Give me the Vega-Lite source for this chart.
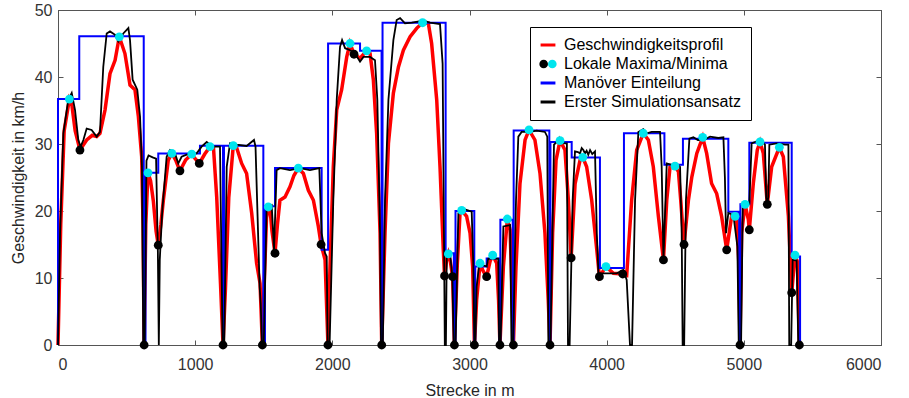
{
"$schema": "https://vega.github.io/schema/vega-lite/v6.json",
"width": 823, "height": 335,
"autosize": {"type": "none"},
"padding": {"left": 58, "top": 10, "right": 28, "bottom": 53},
"background": "white",
"config": {
 "view": {"stroke": "#555555", "strokeWidth": 1},
 "font": "Liberation Sans",
 "axis": {"grid": false, "labelFont": "Liberation Sans", "titleFont": "Liberation Sans", "labelFontSize": 16, "titleFontSize": 16, "titleFontWeight": "normal", "labelColor": "#333333", "titleColor": "#262626", "tickColor": "#555555", "domainColor": "#555555", "tickSize": -5}
},
"datasets": {
 "blue": [
  {"x":0,"v":0},{"x":0,"v":36.7},{"x":155,"v":46.1},{"x":625,"v":0},{"x":638,"v":25.7},{"x":731,"v":28.6},{"x":1035,"v":29.75},{"x":1203,"v":0},{"x":1210,"v":29.75},{"x":1497,"v":0},{"x":1509,"v":20.7},{"x":1582,"v":26.4},{"x":1922,"v":14.2},{"x":1969,"v":45.0},{"x":2202,"v":43.9},{"x":2359,"v":0},{"x":2366,"v":48.1},{"x":2826,"v":13.7},{"x":2886,"v":0},{"x":2898,"v":20.0},{"x":3035,"v":0},{"x":3042,"v":11.7},{"x":3125,"v":12.9},{"x":3218,"v":0},{"x":3225,"v":18.7},{"x":3315,"v":0},{"x":3322,"v":32.0},{"x":3582,"v":0},{"x":3590,"v":30.3},{"x":3745,"v":28.0},{"x":3951,"v":11.5},{"x":4126,"v":31.6},{"x":4421,"v":26.9},{"x":4556,"v":30.8},{"x":4887,"v":19.9},{"x":4966,"v":0},{"x":4975,"v":21.0},{"x":5040,"v":30.2},{"x":5349,"v":13.2},{"x":5410,"v":0}
 ],
 "red": [
  {"x":0,"v":0},{"x":20,"v":18},{"x":45,"v":32},{"x":83,"v":36.7},{"x":100,"v":36},{"x":125,"v":32},{"x":160,"v":29.1},{"x":209,"v":30.6},{"x":250,"v":31.3},{"x":282,"v":31.1},{"x":306,"v":31.6},{"x":343,"v":35.1},{"x":379,"v":40.5},{"x":416,"v":42.5},{"x":447,"v":46.0},{"x":488,"v":43.5},{"x":525,"v":38.8},{"x":561,"v":38.1},{"x":586,"v":34.1},{"x":610,"v":28.1},{"x":620,"v":18},{"x":628,"v":0},{"x":640,"v":18},{"x":656,"v":25.7},{"x":675,"v":24.5},{"x":695,"v":21.5},{"x":715,"v":17},{"x":731,"v":14.9},{"x":750,"v":18},{"x":768,"v":21.6},{"x":804,"v":27.6},{"x":830,"v":28.6},{"x":860,"v":27.5},{"x":889,"v":26.0},{"x":930,"v":27.6},{"x":975,"v":28.5},{"x":1000,"v":27.8},{"x":1030,"v":27.1},{"x":1070,"v":28.5},{"x":1108,"v":29.6},{"x":1133,"v":29.6},{"x":1157,"v":22.1},{"x":1185,"v":9},{"x":1203,"v":0},{"x":1220,"v":8},{"x":1245,"v":22},{"x":1278,"v":29.75},{"x":1300,"v":29.6},{"x":1339,"v":27.1},{"x":1375,"v":25.6},{"x":1412,"v":19.7},{"x":1448,"v":12.2},{"x":1473,"v":9.2},{"x":1490,"v":0},{"x":1505,"v":10},{"x":1520,"v":19},{"x":1533,"v":20.6},{"x":1545,"v":20.4},{"x":1560,"v":17},{"x":1582,"v":13.7},{"x":1600,"v":18},{"x":1618,"v":21.6},{"x":1655,"v":22.1},{"x":1691,"v":23.6},{"x":1720,"v":25.3},{"x":1752,"v":26.4},{"x":1789,"v":25.6},{"x":1825,"v":23.1},{"x":1862,"v":21.6},{"x":1898,"v":17.7},{"x":1918,"v":15.0},{"x":1947,"v":12.7},{"x":1968,"v":0},{"x":1983,"v":11.7},{"x":2007,"v":26.6},{"x":2032,"v":35.1},{"x":2068,"v":38.1},{"x":2105,"v":43.0},{"x":2129,"v":45.0},{"x":2158,"v":43.4},{"x":2202,"v":42.8},{"x":2250,"v":43.9},{"x":2275,"v":43.5},{"x":2299,"v":39.6},{"x":2323,"v":31.6},{"x":2348,"v":16.7},{"x":2360,"v":0},{"x":2384,"v":16.7},{"x":2409,"v":30.1},{"x":2445,"v":37.6},{"x":2482,"v":41.5},{"x":2518,"v":44.0},{"x":2567,"v":46.0},{"x":2616,"v":47.3},{"x":2658,"v":48.1},{"x":2700,"v":48.0},{"x":2724,"v":45.0},{"x":2761,"v":36.6},{"x":2785,"v":26.6},{"x":2809,"v":14.2},{"x":2818,"v":10.3},{"x":2832,"v":12.5},{"x":2846,"v":13.6},{"x":2860,"v":12.5},{"x":2877,"v":10.2},{"x":2890,"v":0},{"x":2911,"v":12},{"x":2931,"v":19.7},{"x":2943,"v":20.1},{"x":2979,"v":19.2},{"x":3004,"v":16.7},{"x":3023,"v":11.7},{"x":3036,"v":0},{"x":3052,"v":6.7},{"x":3077,"v":12.2},{"x":3100,"v":11},{"x":3125,"v":10.2},{"x":3150,"v":12.5},{"x":3169,"v":13.4},{"x":3198,"v":12.2},{"x":3212,"v":6.7},{"x":3222,"v":0},{"x":3247,"v":11.7},{"x":3276,"v":18.8},{"x":3296,"v":17.2},{"x":3312,"v":6.7},{"x":3320,"v":0},{"x":3339,"v":11.7},{"x":3368,"v":24.1},{"x":3405,"v":30.6},{"x":3434,"v":32.1},{"x":3477,"v":30.6},{"x":3514,"v":25.6},{"x":3550,"v":16.7},{"x":3574,"v":6.7},{"x":3587,"v":0},{"x":3606,"v":16.7},{"x":3631,"v":27.6},{"x":3660,"v":30.5},{"x":3696,"v":29.1},{"x":3721,"v":21.6},{"x":3741,"v":13.0},{"x":3770,"v":24.1},{"x":3806,"v":27.6},{"x":3826,"v":28.0},{"x":3854,"v":26.6},{"x":3891,"v":21.6},{"x":3928,"v":14.2},{"x":3947,"v":10.2},{"x":3995,"v":11.7},{"x":4049,"v":10.7},{"x":4117,"v":10.6},{"x":4146,"v":10.4},{"x":4182,"v":21.6},{"x":4219,"v":29.1},{"x":4267,"v":31.6},{"x":4304,"v":30.6},{"x":4340,"v":26.6},{"x":4377,"v":19.2},{"x":4414,"v":12.7},{"x":4438,"v":21.6},{"x":4462,"v":26.6},{"x":4498,"v":26.7},{"x":4523,"v":25.9},{"x":4540,"v":21.6},{"x":4564,"v":15.0},{"x":4596,"v":21.6},{"x":4621,"v":25.1},{"x":4657,"v":28.6},{"x":4700,"v":31.0},{"x":4729,"v":28.6},{"x":4765,"v":24.1},{"x":4802,"v":22.6},{"x":4838,"v":19.2},{"x":4875,"v":14.2},{"x":4911,"v":19.2},{"x":4936,"v":19.2},{"x":4948,"v":18.7},{"x":4965,"v":11.7},{"x":4972,"v":0},{"x":4984,"v":16.7},{"x":5009,"v":21.0},{"x":5033,"v":18.7},{"x":5040,"v":17.2},{"x":5069,"v":24.1},{"x":5098,"v":29.1},{"x":5118,"v":30.3},{"x":5142,"v":28.6},{"x":5171,"v":21.0},{"x":5203,"v":26.6},{"x":5259,"v":29.5},{"x":5288,"v":28.1},{"x":5325,"v":19.2},{"x":5349,"v":7.8},{"x":5373,"v":13.4},{"x":5390,"v":12.5},{"x":5405,"v":0}
 ],
 "black": [
  {"x":0,"v":0},{"x":15,"v":16.7},{"x":39,"v":31.6},{"x":75,"v":36.6},{"x":100,"v":37.6},{"x":124,"v":35.1},{"x":148,"v":30.6},{"x":165,"v":29.6},{"x":185,"v":30.6},{"x":209,"v":32.3},{"x":245,"v":32.1},{"x":282,"v":31.1},{"x":306,"v":31.8},{"x":330,"v":41.5},{"x":355,"v":46.5},{"x":379,"v":46.8},{"x":416,"v":46.3},{"x":440,"v":45.3},{"x":476,"v":46.5},{"x":513,"v":47.3},{"x":525,"v":45.5},{"x":544,"v":39.6},{"x":578,"v":38.1},{"x":598,"v":34.1},{"x":612,"v":26.6},{"x":622,"v":0},{"x":632,"v":0},{"x":645,"v":27.5},{"x":660,"v":28.3},{"x":690,"v":28.0},{"x":715,"v":27.8},{"x":728,"v":14},{"x":735,"v":0},{"x":742,"v":12.7},{"x":760,"v":20},{"x":792,"v":28.1},{"x":817,"v":29.1},{"x":853,"v":28.6},{"x":877,"v":27.1},{"x":901,"v":28.1},{"x":938,"v":28.4},{"x":1011,"v":28.6},{"x":1047,"v":29.6},{"x":1084,"v":30.3},{"x":1108,"v":29.9},{"x":1133,"v":29.6},{"x":1181,"v":29.6},{"x":1200,"v":0},{"x":1212,"v":0},{"x":1230,"v":26.6},{"x":1254,"v":30.1},{"x":1303,"v":29.9},{"x":1375,"v":29.7},{"x":1429,"v":30.6},{"x":1440,"v":29.6},{"x":1455,"v":19.2},{"x":1470,"v":8.7},{"x":1478,"v":6.2},{"x":1487,"v":0},{"x":1500,"v":0},{"x":1521,"v":20.6},{"x":1558,"v":20.9},{"x":1575,"v":14.2},{"x":1594,"v":26.1},{"x":1618,"v":26.4},{"x":1691,"v":26.1},{"x":1764,"v":26.4},{"x":1837,"v":26.1},{"x":1905,"v":26.4},{"x":1922,"v":16.7},{"x":1947,"v":13.7},{"x":1959,"v":13.2},{"x":1966,"v":0},{"x":1980,"v":0},{"x":2007,"v":21.6},{"x":2032,"v":36.6},{"x":2056,"v":44.5},{"x":2071,"v":45.5},{"x":2093,"v":44.3},{"x":2129,"v":44.0},{"x":2166,"v":43.5},{"x":2202,"v":42.3},{"x":2227,"v":43.0},{"x":2275,"v":43.0},{"x":2311,"v":42.5},{"x":2328,"v":36.6},{"x":2348,"v":16.7},{"x":2355,"v":0},{"x":2368,"v":0},{"x":2384,"v":21.6},{"x":2409,"v":36.6},{"x":2445,"v":45.5},{"x":2469,"v":48.5},{"x":2494,"v":48.8},{"x":2530,"v":48.0},{"x":2579,"v":48.1},{"x":2664,"v":48.4},{"x":2712,"v":48.1},{"x":2785,"v":47.9},{"x":2804,"v":42.0},{"x":2815,"v":13.7},{"x":2820,"v":0},{"x":2828,"v":0},{"x":2834,"v":13.2},{"x":2858,"v":13.7},{"x":2875,"v":10.2},{"x":2885,"v":0},{"x":2898,"v":0},{"x":2919,"v":19.7},{"x":2943,"v":20.4},{"x":3016,"v":19.9},{"x":3028,"v":11.7},{"x":3036,"v":0},{"x":3042,"v":0},{"x":3052,"v":8.7},{"x":3072,"v":12.2},{"x":3101,"v":11.9},{"x":3125,"v":11.7},{"x":3137,"v":12.9},{"x":3210,"v":12.9},{"x":3216,"v":0},{"x":3226,"v":0},{"x":3247,"v":17.7},{"x":3296,"v":17.9},{"x":3306,"v":0},{"x":3318,"v":0},{"x":3339,"v":21.6},{"x":3356,"v":31.1},{"x":3380,"v":31.8},{"x":3441,"v":31.8},{"x":3490,"v":32.0},{"x":3550,"v":31.8},{"x":3567,"v":31.1},{"x":3575,"v":0},{"x":3590,"v":0},{"x":3616,"v":29.9},{"x":3636,"v":30.3},{"x":3696,"v":30.1},{"x":3710,"v":30.1},{"x":3718,"v":0},{"x":3730,"v":0},{"x":3752,"v":21.6},{"x":3769,"v":28.9},{"x":3790,"v":28.8},{"x":3806,"v":28.6},{"x":3818,"v":29.4},{"x":3830,"v":29.1},{"x":3842,"v":28.6},{"x":3854,"v":29.0},{"x":3866,"v":28.4},{"x":3879,"v":29.1},{"x":3895,"v":28.5},{"x":3915,"v":28.9},{"x":3928,"v":16.7},{"x":3940,"v":10.7},{"x":3976,"v":10.7},{"x":4073,"v":10.7},{"x":4122,"v":11.2},{"x":4146,"v":9.7},{"x":4170,"v":0},{"x":4185,"v":0},{"x":4207,"v":21.6},{"x":4231,"v":31.8},{"x":4267,"v":32.2},{"x":4292,"v":31.6},{"x":4328,"v":31.8},{"x":4389,"v":31.8},{"x":4401,"v":26.6},{"x":4414,"v":12.7},{"x":4438,"v":27.1},{"x":4474,"v":26.9},{"x":4510,"v":27.1},{"x":4535,"v":26.6},{"x":4547,"v":16.7},{"x":4554,"v":0},{"x":4565,"v":0},{"x":4578,"v":21.6},{"x":4603,"v":30.8},{"x":4632,"v":31.0},{"x":4665,"v":30.6},{"x":4705,"v":30.6},{"x":4754,"v":31.1},{"x":4814,"v":30.9},{"x":4851,"v":31.0},{"x":4862,"v":25},{"x":4870,"v":16.7},{"x":4887,"v":19.7},{"x":4924,"v":19.4},{"x":4953,"v":14.7},{"x":4963,"v":0},{"x":4980,"v":0},{"x":4992,"v":20.6},{"x":5021,"v":20.9},{"x":5040,"v":21.1},{"x":5057,"v":30.1},{"x":5081,"v":30.3},{"x":5118,"v":30.6},{"x":5154,"v":29.9},{"x":5163,"v":22},{"x":5171,"v":21},{"x":5178,"v":22},{"x":5186,"v":29.9},{"x":5239,"v":30.1},{"x":5301,"v":29.9},{"x":5325,"v":29.9},{"x":5331,"v":0},{"x":5345,"v":0},{"x":5356,"v":12.7},{"x":5385,"v":12.6},{"x":5397,"v":0}
 ],
 "pts": [
  {"x":83,"v":36.7,"t":"max"},{"x":447,"v":46.0,"t":"max"},{"x":656,"v":25.7,"t":"max"},{"x":830,"v":28.6,"t":"max"},{"x":975,"v":28.5,"t":"max"},{"x":1108,"v":29.6,"t":"max"},{"x":1278,"v":29.75,"t":"max"},{"x":1533,"v":20.6,"t":"max"},{"x":1752,"v":26.4,"t":"max"},{"x":2129,"v":45.0,"t":"max"},{"x":2250,"v":43.9,"t":"max"},{"x":2658,"v":48.1,"t":"max"},{"x":2846,"v":13.6,"t":"max"},{"x":2943,"v":20.1,"t":"max"},{"x":3077,"v":12.2,"t":"max"},{"x":3169,"v":13.4,"t":"max"},{"x":3276,"v":18.8,"t":"max"},{"x":3434,"v":32.1,"t":"max"},{"x":3660,"v":30.5,"t":"max"},{"x":3826,"v":28.0,"t":"max"},{"x":3995,"v":11.7,"t":"max"},{"x":4267,"v":31.6,"t":"max"},{"x":4498,"v":26.7,"t":"max"},{"x":4700,"v":31.0,"t":"max"},{"x":4936,"v":19.2,"t":"max"},{"x":5009,"v":21.0,"t":"max"},{"x":5118,"v":30.3,"t":"max"},{"x":5259,"v":29.5,"t":"max"},{"x":5373,"v":13.4,"t":"max"},
  {"x":160,"v":29.1,"t":"min"},{"x":628,"v":0,"t":"min"},{"x":731,"v":14.9,"t":"min"},{"x":889,"v":26.0,"t":"min"},{"x":1030,"v":27.1,"t":"min"},{"x":1203,"v":0,"t":"min"},{"x":1490,"v":0,"t":"min"},{"x":1582,"v":13.7,"t":"min"},{"x":1918,"v":15.0,"t":"min"},{"x":1968,"v":0,"t":"min"},{"x":2158,"v":43.4,"t":"min"},{"x":2360,"v":0,"t":"min"},{"x":2818,"v":10.3,"t":"min"},{"x":2877,"v":10.2,"t":"min"},{"x":2890,"v":0,"t":"min"},{"x":3036,"v":0,"t":"min"},{"x":3125,"v":10.2,"t":"min"},{"x":3222,"v":0,"t":"min"},{"x":3320,"v":0,"t":"min"},{"x":3587,"v":0,"t":"min"},{"x":3741,"v":13.0,"t":"min"},{"x":3947,"v":10.2,"t":"min"},{"x":4117,"v":10.6,"t":"min"},{"x":4414,"v":12.7,"t":"min"},{"x":4564,"v":15.0,"t":"min"},{"x":4875,"v":14.2,"t":"min"},{"x":4972,"v":0,"t":"min"},{"x":5040,"v":17.2,"t":"min"},{"x":5171,"v":21.0,"t":"min"},{"x":5349,"v":7.8,"t":"min"},{"x":5405,"v":0,"t":"min"}
 ]
},
"layer": [
 {
  "data": {"name": "red"},
  "mark": {"type": "line", "strokeWidth": 3.5, "interpolate": "linear"},
  "encoding": {
   "x": {"field": "x", "type": "quantitative", "scale": {"domain": [0, 6000], "nice": false, "zero": false},
     "axis": {"orient": "bottom", "title": "Strecke in m", "values": [0,1000,2000,3000,4000,5000,6000], "format": "d", "labelPadding": 16, "titlePadding": 10}},
   "y": {"field": "v", "type": "quantitative", "scale": {"domain": [0, 50], "nice": false},
     "axis": {"orient": "left", "title": "Geschwindigkeit in km/h", "values": [0,10,20,30,40,50], "labelPadding": 11, "titlePadding": 8}},
   "stroke": {"datum": "Geschwindigkeitsprofil", "type": "nominal",
     "scale": {"domain": ["Geschwindigkeitsprofil", "Lokale Maxima/Minima", "Manöver Einteilung", "Erster Simulationsansatz"], "range": ["#ff0000", "#000000", "#0000ff", "#000000"]},
     "legend": {"orient": "none", "legendX": 472, "legendY": 17, "title": null, "padding": 10, "strokeColor": "#000000", "fillColor": "#ffffff", "labelFontSize": 16, "labelFont": "Liberation Sans", "labelColor": "#000000", "rowPadding": 3, "symbolType": "stroke", "symbolSize": 220, "symbolStrokeWidth": 3, "labelOffset": 8, "labelLimit": 400,
       "encode": {"symbols": {"update": {
         "shape": {"signal": "datum.value === 'Lokale Maxima/Minima' ? 'M -1 0 A 0.5 0.5 0 1 1 0 0 A 0.5 0.5 0 1 1 -1 0 Z M 0 0 A 0.5 0.5 0 1 1 1 0 A 0.5 0.5 0 1 1 0 0 Z' : 'stroke'"},
         "fill": {"signal": "datum.value === 'Lokale Maxima/Minima' ? {gradient: 'linear', x1: 0, y1: 0, x2: 1, y2: 0, stops: [{offset: 0, color: '#000000'}, {offset: 0.5, color: '#000000'}, {offset: 0.5, color: '#00e5ee'}, {offset: 1, color: '#00e5ee'}]} : 'transparent'"},
         "strokeWidth": {"signal": "datum.value === 'Lokale Maxima/Minima' ? 0 : 3"},
         "size": {"signal": "datum.value === 'Lokale Maxima/Minima' ? 300 : 220"}
       }}}}
   }
  }
 },
 {
  "data": {"name": "blue"},
  "mark": {"type": "line", "strokeWidth": 2, "interpolate": "step-after"},
  "encoding": {
   "x": {"field": "x", "type": "quantitative", "axis": null},
   "y": {"field": "v", "type": "quantitative", "axis": null},
   "stroke": {"datum": "Manöver Einteilung", "type": "nominal"}
  }
 },
 {
  "data": {"name": "black"},
  "mark": {"type": "line", "strokeWidth": 1.8, "interpolate": "linear"},
  "encoding": {
   "x": {"field": "x", "type": "quantitative", "axis": null},
   "y": {"field": "v", "type": "quantitative", "axis": null},
   "stroke": {"datum": "Erster Simulationsansatz", "type": "nominal"}
  }
 },
 {
  "data": {"name": "pts"},
  "mark": {"type": "circle", "size": 78, "opacity": 1, "clip": false},
  "encoding": {
   "x": {"field": "x", "type": "quantitative", "axis": {"orient": "top", "labels": false, "title": null, "values": [0,1000,2000,3000,4000,5000,6000]}},
   "y": {"field": "v", "type": "quantitative", "axis": {"orient": "right", "labels": false, "title": null, "values": [0,10,20,30,40,50]}},
   "fill": {"field": "t", "type": "nominal", "scale": {"domain": ["max", "min"], "range": ["#00e5ee", "#000000"]}, "legend": null}
  }
 }
],
"resolve": {"axis": {"x": "independent", "y": "independent"}}
}
